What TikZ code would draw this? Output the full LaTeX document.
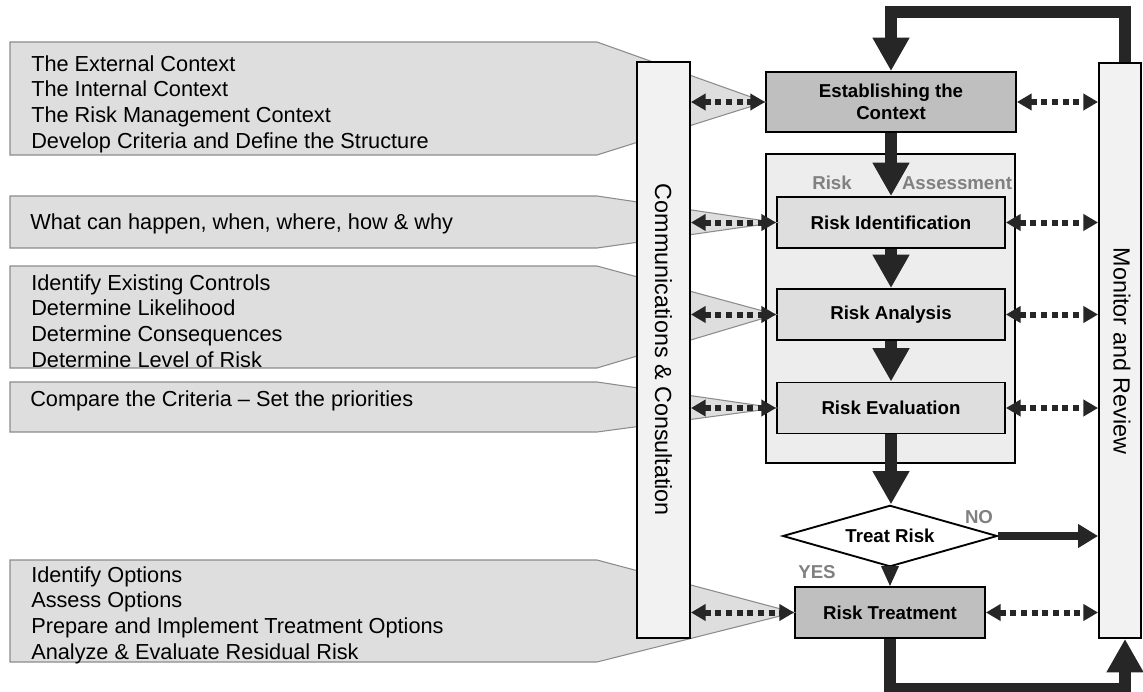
\documentclass[tikz,border=0pt]{standalone}
\usepackage{fontspec}
\setmainfont{Liberation Sans}
\usetikzlibrary{arrows.meta, positioning, shapes.geometric}

\begin{document}
\begin{tikzpicture}[
    x=0.75pt, y=-0.75pt, % one unit = one pixel of the drawing
    box/.style={draw, line width=1.4pt, font=\bfseries\fontsize{14}{16.5}\selectfont, align=center, minimum width=171pt, minimum height=38.25pt, inner sep=0pt},
    bar/.style={draw, line width=1.4pt, fill=black!5, inner sep=0pt},
    bartext/.style={rotate=-90, font=\fontsize{17.5}{20}\selectfont, inner sep=0pt},
    callout/.style={draw=black!45, line width=0.8pt, fill=black!13},
    listtext/.style={font=\fontsize{16.3}{19.3}\selectfont, align=left, anchor=west, inner sep=0pt},
    tag/.style={text=black!50, font=\bfseries\fontsize{14}{16}\selectfont, inner sep=0pt},
    bigarrow/.style={draw=black!85, line width=9pt, -{Triangle[width=26pt,length=25pt]}}, % thick flow arrows
    dotarrow/.style={draw=black!85, line width=4.5pt, dash pattern=on 4.5pt off 3.5pt, {Triangle[width=12pt,length=11pt]}-{Triangle[width=12pt,length=11pt]}}
  ]
  \useasboundingbox (0,0) rectangle (1143,692);

  % Process boxes
  \node[box, fill=black!25, minimum width=187.5pt, minimum height=45pt] (ctx) at (891,102) {Establishing the\\Context};
  \node[draw, line width=1.4pt, fill=black!7, minimum width=186.75pt, minimum height=231.75pt, inner sep=0pt] (ra) at (890.5,308.5) {};
  \node[box, fill=black!13] (rid) at (891,222.5) {Risk Identification};
  \node[box, fill=black!13] (ran) at (891,314.5) {Risk Analysis};
  \node[box, fill=black!13] (rev) at (891,408) {Risk Evaluation};
  \node[tag] (risk) at (832,183) {Risk};
  \node[tag] (assess) at (957,183) {Assessment};
  \node[diamond, draw, line width=1.4pt, fill=white, aspect=3.4, inner sep=0pt, minimum width=161pt, minimum height=46pt, font=\bfseries\fontsize{14}{16}\selectfont] (treat) at (890,536) {Treat Risk};
  \node[box, fill=black!25, minimum width=142.5pt] (trt) at (890,612.5) {Risk Treatment};
  \node[bar, minimum width=31.5pt, minimum height=431.25pt] (mon) at (1120,350.5) {};
  \node[bartext] (montext) at (1122,351) {Monitor and Review};

  % Callouts
  \draw[callout] (10,42) -- (597,42) -- (ctx.west) -- (597,155) -- (10,155) -- cycle;
  \node[listtext] (l1) at (31,104) {The External Context\\The Internal Context\\The Risk Management Context\\Develop Criteria and Define the Structure};
  \draw[callout] (10,196) -- (597,196) -- (rid.west) -- (597,248) -- (10,248) -- cycle;
  \node[listtext] (l2) at (30,224) {What can happen, when, where, how \& why};
  \draw[callout] (10,266) -- (597,266) -- (ran.west) -- (597,368) -- (10,368) -- cycle;
  \node[listtext] (l3) at (31,321) {Identify Existing Controls\\Determine Likelihood\\Determine Consequences\\Determine Level of Risk};
  \draw[callout] (10,382) -- (597,382) -- (rev.west) -- (597,432) -- (10,432) -- cycle;
  \node[listtext] (l4) at (30,401) {Compare the Criteria -- Set the priorities};
  \draw[callout] (10,560) -- (597,560) -- (trt.west) -- (597,662) -- (10,662) -- cycle;
  \node[listtext] (l5) at (31,615) {Identify Options\\Assess Options\\Prepare and Implement Treatment Options\\Analyze \& Evaluate Residual Risk};

  \node[bar, minimum width=39.75pt, minimum height=432pt] (comm) at (663.5,350) {};
  \node[bartext] (commtext) at (comm.center) {Communications \& Consultation};

  % Arrows
  \draw[bigarrow] (ctx) -- (rid);
  \draw[bigarrow] (rid) -- (ran);
  \draw[bigarrow] (ran) -- (rev);
  \draw[bigarrow] (rev.south) -- (rev.south |- treat.north);
  \draw[draw=black!85, line width=2pt, -{Triangle[width=13pt,length=15pt]}] (treat) -- (trt);
  \draw[draw=black!85, line width=6pt, -{Triangle[width=17pt,length=15pt]}] (treat.east) -- (treat.east -| mon.west);
  \draw[bigarrow] ([xshift=3.75pt]mon.north) -- ++(0,-50) -| (ctx.north);
  \draw[bigarrow] (trt.south) -- ++(0,50) -| ([xshift=3.75pt]mon.south);
  \node[tag] (no) at (979,517) {NO};
  \node[tag] (yes) at (817,572) {YES};

  % Dotted links
  \draw[dotarrow] (comm.east |- ctx.west) -- (ctx.west);
  \draw[dotarrow] (comm.east |- rid.west) -- (rid.west);
  \draw[dotarrow] (comm.east |- ran.west) -- (ran.west);
  \draw[dotarrow] (comm.east |- rev.west) -- (rev.west);
  \draw[dotarrow] (comm.east |- trt.west) -- (trt.west);
  \draw[dotarrow] (ctx.east) -- (ctx.east -| mon.west);
  \draw[dotarrow] (rid.east) -- (rid.east -| mon.west);
  \draw[dotarrow] (ran.east) -- (ran.east -| mon.west);
  \draw[dotarrow] (rev.east) -- (rev.east -| mon.west);
  \draw[dotarrow] (trt.east) -- (trt.east -| mon.west);
\end{tikzpicture}
\end{document}
